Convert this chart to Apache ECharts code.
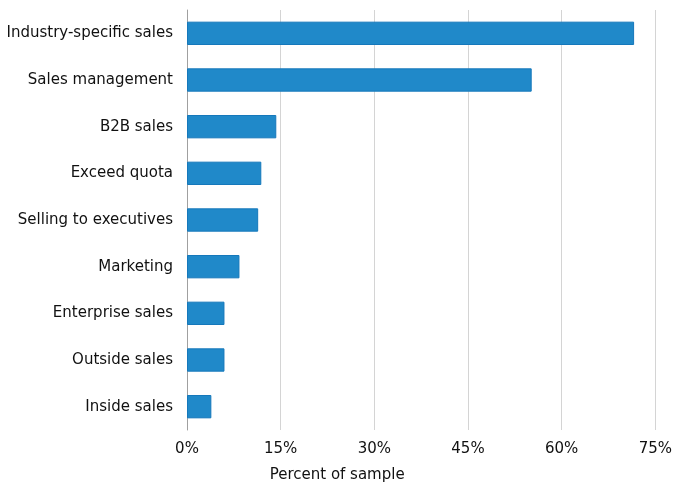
<!DOCTYPE html>
<html>
<head>
<meta charset="utf-8">
<script src="https://cdn.jsdelivr.net/npm/echarts@6/dist/echarts.min.js"></script>
<style>
  html, body { margin: 0; padding: 0; background: #fff; }
  #chart { width: 675px; height: 501px; }
</style>
</head>
<body>
<div id="chart"></div>
<script>
// categories listed top to bottom
var categories = ['Industry-specific sales', 'Sales management', 'B2B sales', 'Exceed quota',
    'Selling to executives', 'Marketing', 'Enterprise sales', 'Outside sales', 'Inside sales'];
var percents = [71.6, 55.2, 14.3, 11.9, 11.4, 8.4, 6.0, 6.0, 3.9];
var tickValues = [0, 15, 30, 45, 60, 75];

var myChart = echarts.init(document.querySelector('#chart'));
var option = {
    animation: false,
    textStyle: { fontFamily: 'DejaVu Sans' },
    grid: {
        left: 187,
        right: 19,
        top: 10,
        bottom: 71
    },
    xAxis: {
        type: 'value',
        min: tickValues[0],
        max: tickValues[tickValues.length - 1],
        interval: 15,
        name: 'Percent of sample',
        nameLocation: 'middle',
        nameGap: 38,
        // the title sits under the whole figure, not under the plot
        nameTextStyle: { color: '#111', fontSize: 15, padding: [0, 168, 0, 0] },
        axisLine: { show: false },
        axisTick: { show: false },
        axisLabel: {
            color: '#111',
            fontSize: 15,
            margin: 12,
            formatter: '{value}%'
        },
        splitLine: { lineStyle: { color: '#d4d4d4', width: 1 } }
    },
    yAxis: {
        type: 'category',
        inverse: true,
        data: categories,
        axisLine: { show: true, lineStyle: { color: '#a0a0a0', width: 1 } },
        axisTick: { show: false },
        axisLabel: { color: '#111', fontSize: 15, margin: 14 }
    },
    series: [
        {
            type: 'bar',
            data: percents,
            barWidth: '50%',
            itemStyle: {
                color: '#2089c9',
                borderColor: '#1578bb',
                borderWidth: 1
            }
        }
    ]
};
myChart.setOption(option, true);
</script>
</body>
</html>
